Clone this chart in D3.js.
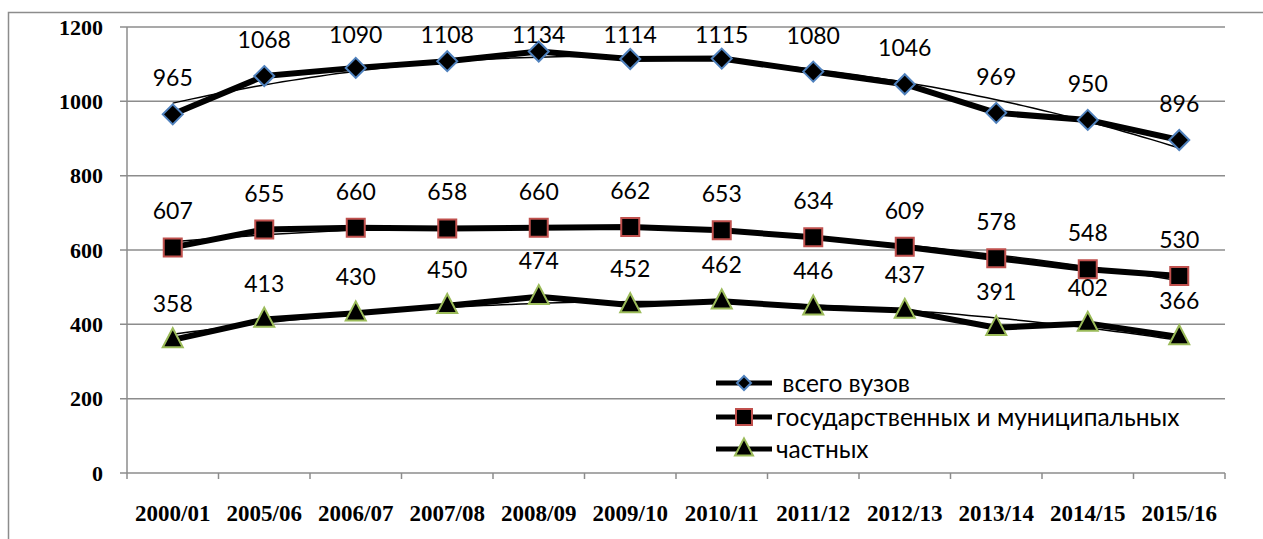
<!DOCTYPE html>
<html>
<head>
<meta charset="utf-8">
<script src="https://cdn.jsdelivr.net/npm/d3@7"></script>
<style>
  body { margin: 0; background: #fff; }
  svg { display: block; }
</style>
</head>
<body>
<div id="chart"></div>
<script>
const years = ['2000/01', '2005/06', '2006/07', '2007/08', '2008/09', '2009/10',
  '2010/11', '2011/12', '2012/13', '2013/14', '2014/15', '2015/16'];
const totalVuz = [965, 1068, 1090, 1108, 1134, 1114, 1115, 1080, 1046, 969, 950, 896];
const stateVuz = [607, 655, 660, 658, 660, 662, 653, 634, 609, 578, 548, 530];
const privateVuz = [358, 413, 430, 450, 474, 452, 462, 446, 437, 391, 402, 366];
const yTicks = [0, 200, 400, 600, 800, 1000, 1200];

const seriesNames = [' всего вузов', 'государственных и муниципальных', 'частных'];

const width = 1263;
const height = 539;
const margin = { top: 27, right: 38, bottom: 66, left: 127 };

const series = [
  { name: seriesNames[0], values: totalVuz, marker: 'diamond', stroke: '#4f81bd' },
  { name: seriesNames[1], values: stateVuz, marker: 'square', stroke: '#c0504d' },
  { name: seriesNames[2], values: privateVuz, marker: 'triangle', stroke: '#9bbb59' },
];

const serif = '"Liberation Serif", "Times New Roman", serif';
const sans = 'Lato, "Open Sans", sans-serif';

const svg = d3.select('#chart').append('svg')
  .attr('width', width)
  .attr('height', height);

// chart frame (right and bottom edges fall outside the picture)
svg.append('rect')
  .attr('x', 8.5).attr('y', 12.5)
  .attr('width', width + 20).attr('height', height + 20)
  .attr('fill', 'none')
  .attr('stroke', '#8c8c8c')
  .attr('stroke-width', 1.5);

const x = d3.scaleBand()
  .domain(years)
  .range([margin.left, width - margin.right])
  .padding(0);
const cx = (i) => x(years[i]) + x.bandwidth() / 2;

const y = d3.scaleLinear()
  .domain([0, 1200])
  .range([height - margin.bottom, margin.top]);

// gridlines
svg.append('g')
  .selectAll('line')
  .data(yTicks)
  .enter()
  .append('line')
  .attr('x1', margin.left - 7)
  .attr('x2', width - margin.right)
  .attr('y1', (d) => y(d))
  .attr('y2', (d) => y(d))
  .attr('stroke', '#8c8c8c')
  .attr('stroke-width', 1.5);

// y axis line
svg.append('line')
  .attr('x1', margin.left).attr('x2', margin.left)
  .attr('y1', y(1200)).attr('y2', y(0))
  .attr('stroke', '#8c8c8c')
  .attr('stroke-width', 1.5);

// x axis tick marks at category boundaries
const bounds = years.map((d) => x(d)).concat([x(years[years.length - 1]) + x.bandwidth()]);
svg.append('g')
  .selectAll('line')
  .data(bounds)
  .enter()
  .append('line')
  .attr('x1', (d) => d).attr('x2', (d) => d)
  .attr('y1', y(0)).attr('y2', y(0) + 6)
  .attr('stroke', '#8c8c8c')
  .attr('stroke-width', 1.5);

svg.append('g')
  .selectAll('text')
  .data(yTicks)
  .enter()
  .append('text')
  .attr('x', margin.left - 24)
  .attr('y', (d) => y(d))
  .attr('dy', '0.35em')
  .attr('text-anchor', 'end')
  .style('font-family', serif)
  .style('font-weight', 'bold')
  .style('font-size', '22px')
  .text((d) => d);

svg.append('g')
  .selectAll('text')
  .data(years)
  .enter()
  .append('text')
  .attr('x', (d, i) => cx(i))
  .attr('y', y(0) + 48)
  .attr('text-anchor', 'middle')
  .style('font-family', serif)
  .style('font-weight', 'bold')
  .style('font-size', '23px')
  .text((d) => d);

// least squares polynomial trend (degree 2), like the spreadsheet trendline
const polyFit = (vals, deg) => {
  const n = deg + 1;
  const A = Array.from({ length: n }, () => new Array(n + 1).fill(0));
  vals.forEach((v, i) => {
    for (let r = 0; r < n; r += 1) {
      for (let c = 0; c < n; c += 1) A[r][c] += i ** (r + c);
      A[r][n] += v * i ** r;
    }
  });
  for (let p = 0; p < n; p += 1) {
    for (let r = p + 1; r < n; r += 1) {
      const f = A[r][p] / A[p][p];
      for (let c = p; c <= n; c += 1) A[r][c] -= f * A[p][c];
    }
  }
  const coef = new Array(n).fill(0);
  for (let r = n - 1; r >= 0; r -= 1) {
    let s = A[r][n];
    for (let c = r + 1; c < n; c += 1) s -= A[r][c] * coef[c];
    coef[r] = s / A[r][r];
  }
  return (t) => coef.reduce((acc, k, j) => acc + k * t ** j, 0);
};

const thickLine = d3.line()
  .x((d, i) => cx(i))
  .y((d) => y(d));

// markers: diamond drawn as a true square on its corner
const markerPath = (type, r) => {
  if (type === 'diamond') return `M0,${-r}L${r},0L0,${r}L${-r},0Z`;
  if (type === 'square') return `M${-r},${-r}H${r}V${r}H${-r}Z`;
  const h = r * 1.9;
  return `M0,${-h * 0.62}L${r},${h * 0.38}L${-r},${h * 0.38}Z`;
};
const markerSize = { diamond: 10, square: 9, triangle: 10 };

// labels are kept inside the plot area, as the spreadsheet does
const labelBaseline = (v) => Math.max(y(v) - 28, margin.top + 16);

series.forEach((s) => {
  const g = svg.append('g');

  g.append('path')
    .attr('d', thickLine(s.values))
    .attr('fill', 'none')
    .attr('stroke', '#000')
    .attr('stroke-width', 6)
    .attr('stroke-linejoin', 'round');

  const f = polyFit(s.values, 2);
  const steps = d3.range(0, 11.01, 0.1);
  const trend = d3.line()
    .x((t) => cx(0) + t * x.bandwidth())
    .y((t) => y(f(t)));
  g.append('path')
    .attr('d', trend(steps))
    .attr('fill', 'none')
    .attr('stroke', '#000')
    .attr('stroke-width', 1.5);

  g.selectAll('path.marker')
    .data(s.values)
    .enter()
    .append('path')
    .classed('marker', true)
    .attr('transform', (d, i) => `translate(${cx(i)},${y(d)})`)
    .attr('d', markerPath(s.marker, markerSize[s.marker]))
    .attr('fill', '#000')
    .attr('stroke', s.stroke)
    .attr('stroke-width', 2);

  g.selectAll('text')
    .data(s.values)
    .enter()
    .append('text')
    .attr('x', (d, i) => cx(i))
    .attr('y', (d) => labelBaseline(d))
    .attr('text-anchor', 'middle')
    .style('font-family', sans)
    .style('font-size', '23px')
    .text((d) => d);
});

// legend
const legend = svg.append('g')
  .attr('transform', 'translate(716,383)');
const legendItem = legend.selectAll('g')
  .data(series)
  .enter()
  .append('g')
  .attr('transform', (d, i) => `translate(0,${[0, 34, 66][i]})`);

legendItem.append('line')
  .attr('x1', 0).attr('x2', 56)
  .attr('stroke', '#000')
  .attr('stroke-width', 5);

legendItem.append('path')
  .attr('transform', 'translate(28,0)')
  .attr('d', (d) => markerPath(d.marker, { diamond: 7, square: 8, triangle: 9 }[d.marker]))
  .attr('fill', '#000')
  .attr('stroke', (d) => d.stroke)
  .attr('stroke-width', 2);

legendItem.append('text')
  .attr('x', 60)
  .attr('dy', '0.35em')
  .attr('xml:space', 'preserve')
  .style('white-space', 'pre')
  .style('font-family', sans)
  .style('font-size', '24.5px')
  .text((d) => d.name);
</script>
</body>
</html>
